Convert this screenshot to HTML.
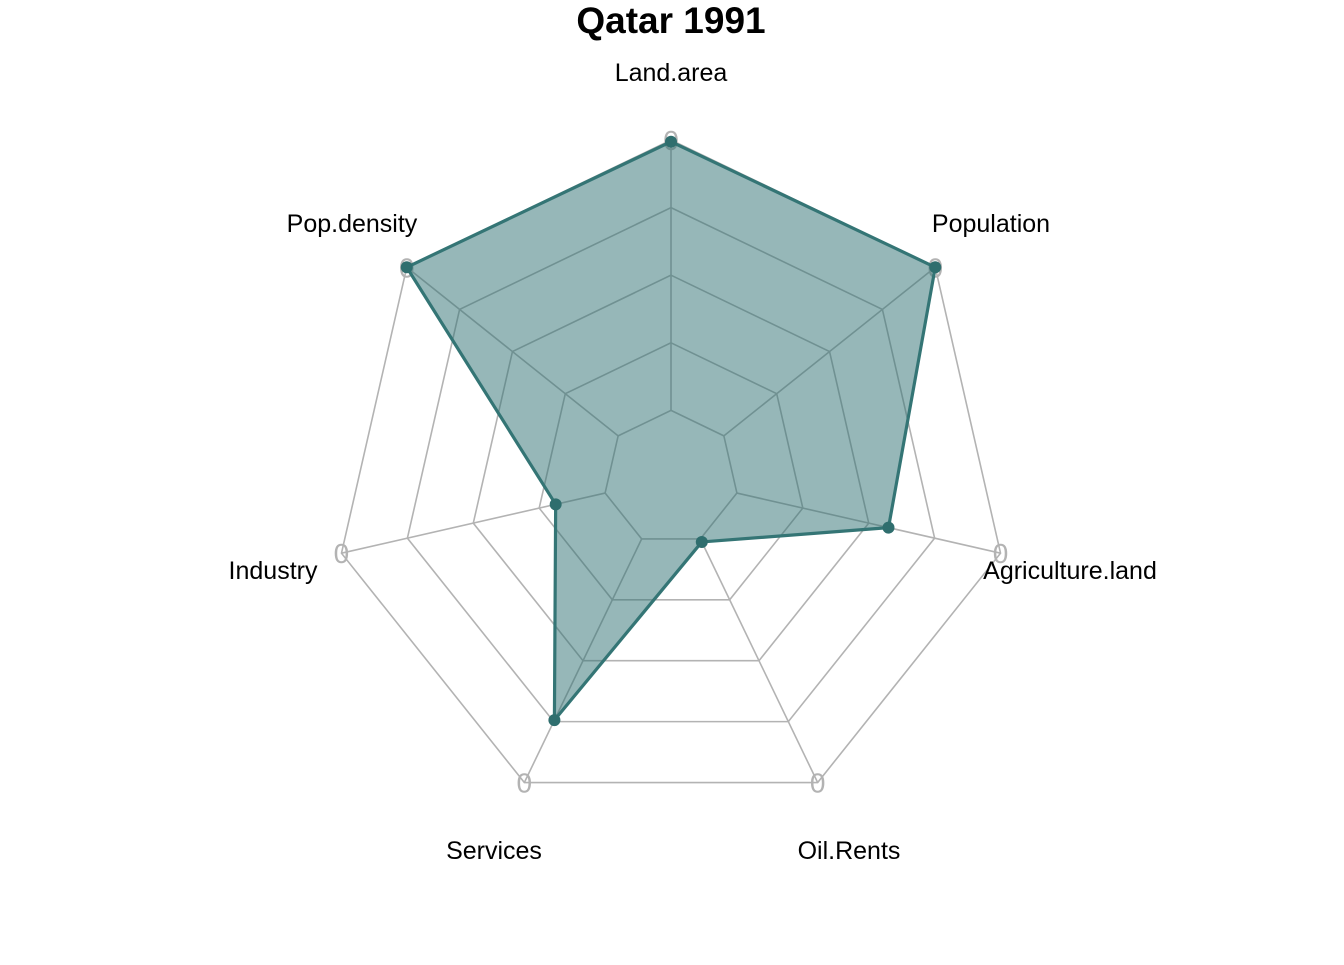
<!DOCTYPE html>
<html><head><meta charset="utf-8"><style>
html,body{margin:0;padding:0;background:#fff;}
svg text{font-family:"Liberation Sans",Arial,sans-serif;}
</style></head><body>
<svg id="chart" width="1344" height="960" xmlns="http://www.w3.org/2000/svg">
<text x="671" y="33" text-anchor="middle" font-size="37" font-weight="bold" fill="#000">Qatar 1991</text>
<g id="grid"></g>
<g id="series"></g>
<g id="labels"></g>
</svg>
<script>
const categories = ["Land.area","Population","Agriculture.land","Oil.Rents","Services","Industry","Pop.density"];
const values = [0.995, 1.0, 0.66, 0.21, 0.795, 0.35, 1.0];
const ringLevels = [0.2, 0.4, 0.6, 0.8, 1.0];
const ringLabel = "0";
const labelPos = [[671,72,"middle"],[991,223,"middle"],[1070,570,"middle"],[849,850,"middle"],[494,850,"middle"],[273,570,"middle"],[352,223,"middle"]];

const cx=671, cy=478, R=338, NS="http://www.w3.org/2000/svg";
function pt(i,f){const a=2*Math.PI*i/categories.length;return [cx+R*f*Math.sin(a), cy-R*f*Math.cos(a)];}
function mk(tag,attrs,parent){const e=document.createElementNS(NS,tag);for(const k in attrs)e.setAttribute(k,attrs[k]);parent.appendChild(e);return e;}
const grid=document.getElementById('grid'), series=document.getElementById('series'), labels=document.getElementById('labels');
ringLevels.forEach((lv,j)=>{
  const p=categories.map((c,i)=>pt(i,lv).join(',')).join(' ');
  const e=mk('polygon',{points:p,fill:'none',stroke:'#b3b3b3','stroke-width':1.6},grid);
  
  
});
categories.forEach((c,i)=>{
  const a=pt(i,ringLevels[0]), b=pt(i,1);
  const l=mk('line',{x1:a[0],y1:a[1],x2:b[0],y2:b[1],stroke:'#b3b3b3','stroke-width':1.6},grid);
  
  
  const t=mk('text',{x:b[0],y:b[1]+10,'text-anchor':'middle','font-size':28,fill:'#b3b3b3'},grid);
  t.textContent=ringLabel;
  
  
  const lp=labelPos[i];
  const lt=mk('text',{x:lp[0],y:lp[1]+9,'text-anchor':lp[2],'font-size':25,fill:'#000'},labels);
  lt.textContent=c;
  
  
});
const pts=values.map((v,i)=>pt(i,v));
const poly=mk('polygon',{points:pts.map(p=>p.join(',')).join(' '),fill:'rgba(46,112,114,0.5)',stroke:'#347575','stroke-width':3.2,'stroke-linejoin':'round'},series);


pts.forEach(p=>{
  const c=mk('circle',{cx:p[0],cy:p[1],r:6,fill:'#2f6e6e'},series);
  
  
});
</script>
</body></html>
